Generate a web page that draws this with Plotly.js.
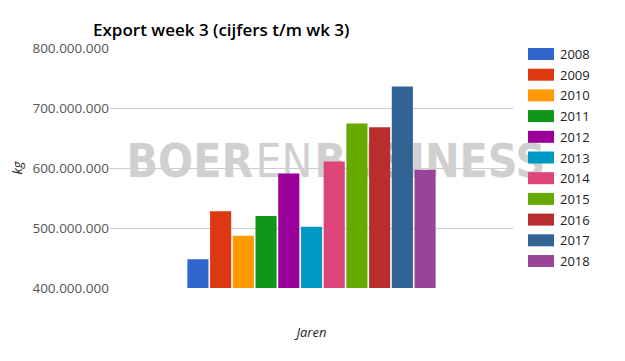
<!DOCTYPE html>
<html>
<head>
<meta charset="utf-8">
<script src="https://cdn.plot.ly/plotly-3.0.1.min.js"></script>
<style>html,body{margin:0;padding:0;background:#fff;}#chart{width:625px;height:361px;}</style>
</head>
<body>
<div id="chart"></div>
<script>
const years = ['2008','2009','2010','2011','2012','2013','2014','2015','2016','2017','2018'];
const exportKg = [448000000, 528000000, 487000000, 520000000, 591000000, 502000000, 611000000, 674000000, 668000000, 736000000, 597000000];
const colors = ['#3366cc','#dc3912','#ff9900','#109618','#990099','#0099c6','#dd4477','#66aa00','#b82e2e','#316395','#994499'];
const category = ['Jaren'];
const yTicks = [400000000, 500000000, 600000000, 700000000, 800000000];
const watermarkParts = ['BOER', 'EN', 'BUSINESS'];

const font = 'Open Sans, Lato, DejaVu Sans, sans-serif';

// plot pixel geometry
const plotL = 110, plotR = 513, plotT = 48, plotB = 288;
const pw = plotR - plotL, ph = plotB - plotT;
const px = v => (v - plotL) / pw;
const py = v => (plotB - v) / ph;

// watermark behind the bars (main subplot, drawn first)
const wmCentres = [190, 284, 430];
const wmWeights = [800, 300, 800];
const traces = watermarkParts.map((t, i) => ({
  type: 'scatter', mode: 'text', x: [wmCentres[i]], y: [605000000], text: [t],
  textposition: 'middle center', xaxis: 'x', yaxis: 'y', showlegend: false, hoverinfo: 'skip',
  cliponaxis: false,
  textfont: {size: 46, color: '#d0d0d0', weight: wmWeights[i], family: 'DejaVu Sans Condensed, DejaVu Sans, sans-serif'}
}));

years.forEach((yr, i) => traces.push({
  type: 'bar',
  name: yr,
  x: category,
  y: [exportKg[i]],
  xaxis: 'x2', yaxis: 'y',
  marker: {color: colors[i]},
  showlegend: false,
  hoverinfo: 'name+y'
}));

const shapes = [];
const annotations = [];
years.forEach((yr, i) => {
  const cy = 54 + i * 20.7;
  shapes.push({type: 'rect', xref: 'paper', yref: 'paper',
    x0: px(528), x1: px(554), y0: py(cy + 6), y1: py(cy - 6),
    fillcolor: colors[i], line: {width: 0}});
  annotations.push({xref: 'paper', yref: 'paper', x: px(558), y: py(cy),
    xanchor: 'left', yanchor: 'middle', text: yr, showarrow: false,
    font: {size: 13, color: '#222', family: font}});
});

const layout = {
  width: 625, height: 361,
  paper_bgcolor: '#fff', plot_bgcolor: '#fff',
  margin: {l: plotL, r: 625 - plotR, t: plotT, b: 361 - plotB, pad: 0},
  separators: ',.',
  title: {text: 'Export week 3 (cijfers t/m wk 3)', x: 93/625, xref: 'container', xanchor: 'left',
          y: 1 - 30/361, yref: 'container', yanchor: 'middle',
          font: {size: 17, color: '#000', family: font, weight: 600}},
  barmode: 'group', bargap: 0.38, bargroupgap: 0.07,
  xaxis: {range: [plotL, plotR], showticklabels: false, showgrid: false,
          zeroline: false, showline: false, ticks: '',
          title: {text: 'Jaren', standoff: 39, font: {size: 13, color: '#222', family: font, style: 'italic'}}},
  xaxis2: {type: 'category', overlaying: 'x', range: [-0.5, 0.5], showticklabels: false, showgrid: false,
          zeroline: false, showline: false, ticks: ''},
  yaxis: {range: [400000000, 800000000], tickvals: yTicks, tickformat: ',', showgrid: true,
          gridcolor: '#cccccc', gridwidth: 1, zeroline: false, showline: false, ticks: '',
          tickfont: {size: 13.5, color: '#555', family: font}, automargin: false,
          title: {text: 'kg', standoff: 6, font: {size: 13, color: '#222', family: font, style: 'italic'}}},
  shapes: shapes,
  annotations: annotations
};

Plotly.newPlot('chart', traces, layout, {displayModeBar: false, staticPlot: true});
</script>
</body>
</html>
